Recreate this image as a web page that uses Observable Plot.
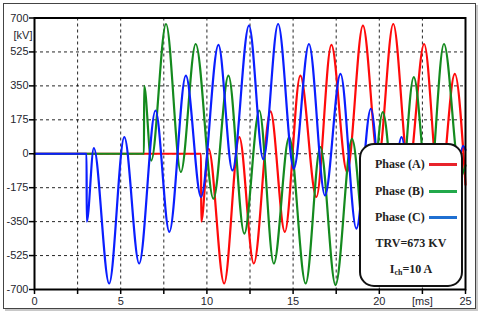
<!DOCTYPE html>
<html>
<head>
<meta charset="utf-8">
<script src="https://cdn.jsdelivr.net/npm/d3@7"></script>
<script src="https://cdn.jsdelivr.net/npm/@observablehq/plot@0.6"></script>
<style>
  html, body { margin: 0; padding: 0; background: #fff; }
  #wrap { position: relative; width: 480px; height: 314px; overflow: hidden; }
  #wrap svg { position: absolute; left: 0; top: 0; }
  #outer { position: absolute; left: 3px; top: 3px; width: 471px; height: 304px;
           border: 1px solid #444; box-shadow: 2px 2px 0 #c8c8c8; pointer-events: none; }
  #legend { position: absolute; left: 359px; top: 143px; width: 100px; height: 140px;
            background: #fff; border: 2px solid #111; border-radius: 15px;
            font-family: "Liberation Serif", serif; font-weight: bold; font-size: 12px; color: #222; }
  .row { position: absolute; left: 14px; height: 14px; line-height: 14px; white-space: nowrap; }
  .sw { position: absolute; left: 68px; width: 28px; height: 3px; }
  .ctr { position: absolute; left: 0; width: 100px; text-align: center; line-height: 14px; white-space: nowrap; }
  sub { font-size: 8px; vertical-align: -2px; }
</style>
</head>
<body>
<div id="wrap"></div>
<script>
// Axis ticks
const xTicks = [0, 2.5, 5, 7.5, 10, 12.5, 15, 17.5, 20, 22.5, 25];
const yTicks = [-700, -525, -350, -175, 0, 175, 350, 525, 700];
const xGrid = [2.5, 5, 7.5, 10, 12.5, 15, 17.5, 20, 22.5];
const yGrid = [-525, -350, -175, 0, 175, 350, 525];

// Phase A (red): [time ms, kV]
const phaseA = [[0,0],[9.66,0],[9.67,-350],[10.1,25],[11.0,-669],[11.88,86],[12.72,-566],[13.69,218],[14.52,-403],[15.42,403],[16.35,-223],[17.22,561],[18.13,-94],[19.05,661],[19.94,-29],[20.81,669],[21.71,-77],[22.6,566],[23.5,-215],[24.38,412],[25,-160]];
// Phase B (green)
const phaseB = [[0,0],[6.35,0],[6.36,350],[6.77,-35],[7.63,669],[8.49,-94],[9.35,566],[10.38,-232],[11.25,403],[12.17,-412],[13.04,223],[13.88,-566],[14.77,86],[15.73,-669],[16.58,34],[17.46,-677],[18.42,77],[19.28,-566],[20.2,215],[21.08,-412],[22.0,395],[22.86,-232],[23.75,566],[24.7,-120],[25,-60]];
// Phase C (blue)
const phaseC = [[0,0],[3.02,0],[3.03,-350],[3.44,29],[4.33,-669],[5.21,86],[6.07,-566],[7.02,223],[7.82,-403],[8.78,403],[9.66,-223],[10.67,561],[11.48,-86],[12.44,661],[13.27,-29],[14.13,669],[15.04,-77],[15.92,566],[16.85,-215],[17.75,412],[18.67,-386],[19.51,232],[20.4,-566],[21.29,86],[22.18,-640],[23.07,30],[23.96,-670],[24.86,40],[25,20]];

const series = [
  {name: "Phase (A)", data: phaseA, color: "#ff0a0a", key: "#e8232b"},
  {name: "Phase (B)", data: phaseB, color: "#148a1e", key: "#22a94b"},
  {name: "Phase (C)", data: phaseC, color: "#0a1eff", key: "#1f6fd1"}
];
const trvText = "TRV=673 KV";
const ichValue = "=10 A";

const lines = series.map(s => Plot.line(s.data, {
  x: d => d[0], y: d => d[1], stroke: s.color, strokeWidth: 2.2, curve: "monotone-x"
}));

const chart = Plot.plot({
  width: 480, height: 314,
  marginLeft: 34, marginRight: 15, marginTop: 17.5, marginBottom: 25,
  x: {domain: [0, 25], label: null},
  y: {domain: [-700, 700], label: null},
  style: {fontFamily: "'Liberation Sans', Arial, sans-serif", fontSize: "11px", color: "#26262e", background: "transparent"},
  marks: [
    Plot.gridX(xGrid, {stroke: "#000", strokeOpacity: 0.85, strokeDasharray: "3,3"}),
    Plot.gridY(yGrid, {stroke: "#000", strokeOpacity: 0.85, strokeDasharray: "3,3"}),
    ...lines,
    Plot.frame({stroke: "#000", strokeWidth: 2}),
    Plot.axisX(xTicks, {tickSize: 5, tickPadding: 3, stroke: "#000", strokeWidth: 1.5,
      tickFormat: d => d % 5 === 0 ? String(d) : (d === 22.5 ? "[ms]" : "")}),
    Plot.axisY(yTicks, {tickSize: 5, tickPadding: 1, stroke: "#000", strokeWidth: 1.5, tickFormat: d => String(d)}),
    Plot.axisY([612.5], {tickSize: 0, tickPadding: 2, tickFormat: () => "[kV]"})
  ]
});

const wrap = document.getElementById("wrap");
wrap.appendChild(chart);

const outer = document.createElement("div");
outer.id = "outer";
wrap.appendChild(outer);

const legend = document.createElement("div");
legend.id = "legend";
series.forEach((s, i) => {
  const top = 12 + i * 26.5;
  const r = document.createElement("div");
  r.className = "row"; r.style.top = top + "px"; r.textContent = s.name;
  legend.appendChild(r);
  const sw = document.createElement("div");
  sw.className = "sw"; sw.style.top = (top + 6) + "px"; sw.style.background = s.key;
  legend.appendChild(sw);
});
const trv = document.createElement("div");
trv.className = "ctr"; trv.style.top = "91px"; trv.textContent = trvText;
legend.appendChild(trv);
const ich = document.createElement("div");
ich.className = "ctr"; ich.style.top = "117px";
ich.innerHTML = "I<sub>ch</sub>" + ichValue;
legend.appendChild(ich);
wrap.appendChild(legend);
</script>
</body>
</html>
